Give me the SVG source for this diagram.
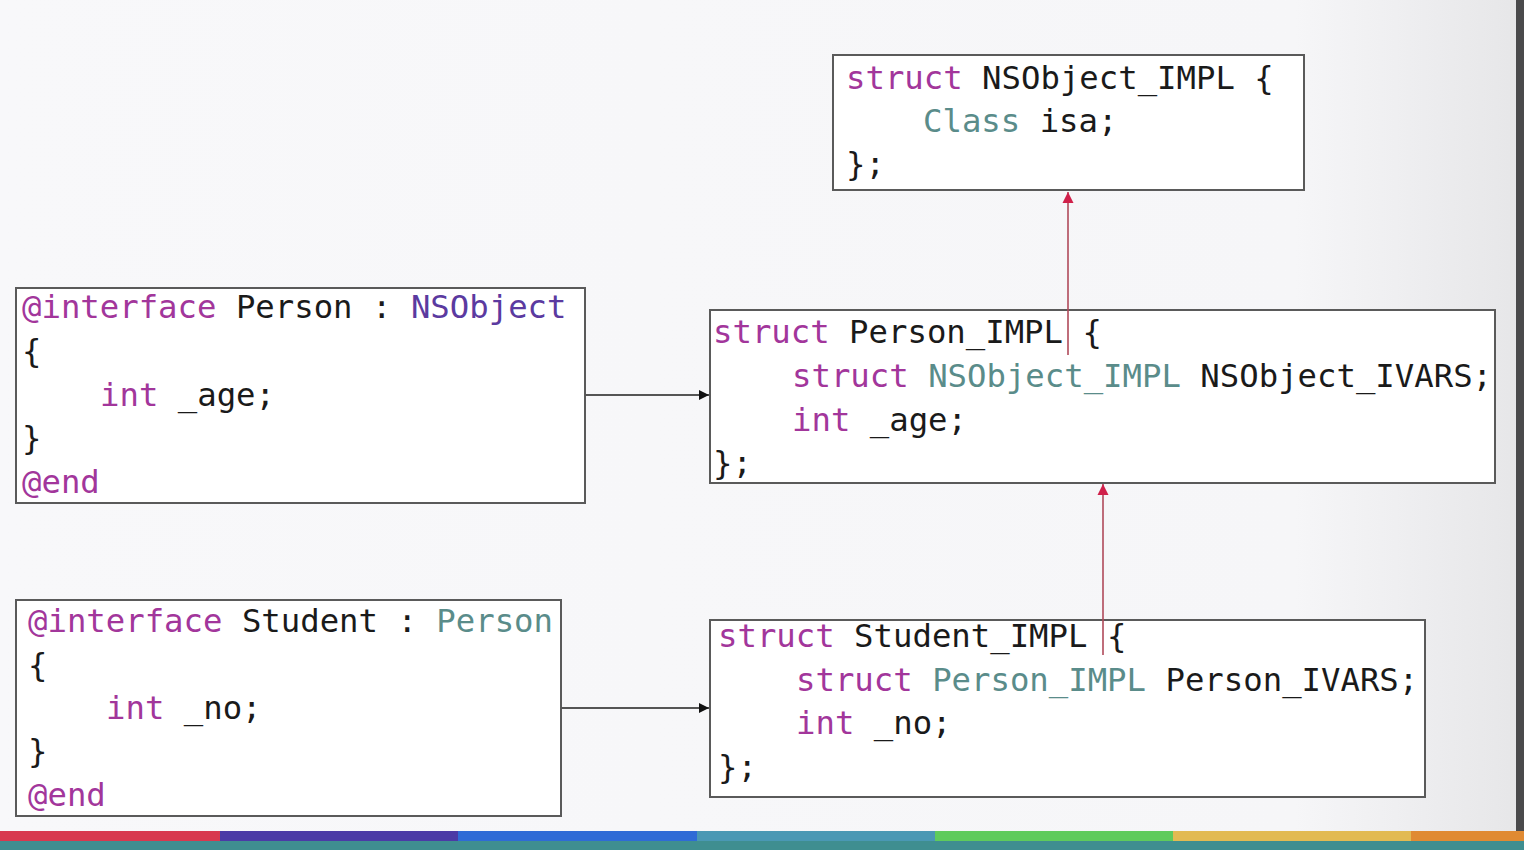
<svg xmlns="http://www.w3.org/2000/svg" width="1524" height="850" viewBox="0 0 1524 850">
<defs>
<linearGradient id="bg" x1="0" y1="0" x2="1" y2="0">
<stop offset="0" stop-color="#f8f8fa"/>
<stop offset="0.85" stop-color="#f6f6f8"/>
<stop offset="1" stop-color="#e6e6e8"/>
</linearGradient>
<marker id="ab" viewBox="0 0 10 10" refX="10" refY="5" markerWidth="5" markerHeight="5" orient="auto" markerUnits="strokeWidth">
<path d="M0,0 L10,5 L0,10 z" fill="#111"/>
</marker>
<marker id="ar" viewBox="0 0 10 10" refX="10" refY="5" markerWidth="7" markerHeight="7" orient="auto" markerUnits="strokeWidth">
<path d="M0,0 L10,5 L0,10 z" fill="#d0204a"/>
</marker>
<style>
.box{fill:#ffffff;stroke:#5a5a5a;stroke-width:2}
.code{font-family:"DejaVu Sans Mono","Liberation Mono",monospace;font-size:32.3px;fill:#1a1a1a;white-space:pre}
.kw{fill:#a2369b}
.cls{fill:#5b3aa0}
.ty{fill:#5a8c8a}
.blk{stroke:#555;stroke-width:2;fill:none}
.red{stroke:#b04a5a;stroke-width:1.6;fill:none}
</style>
</defs>
<rect x="0" y="0" width="1524" height="850" fill="url(#bg)"/>
<rect x="1516" y="0" width="8" height="832" fill="#4a4a4c"/>
<g id="bottom-bar">
<rect x="0" y="831" width="220" height="10" fill="#d8394f"/>
<rect x="220" y="831" width="238" height="10" fill="#4b3aa6"/>
<rect x="458" y="831" width="239" height="10" fill="#2f6bd6"/>
<rect x="697" y="831" width="238" height="10" fill="#4a98b4"/>
<rect x="935" y="831" width="238" height="10" fill="#5fcb5c"/>
<rect x="1173" y="831" width="238" height="10" fill="#e2ba52"/>
<rect x="1411" y="831" width="113" height="10" fill="#e08a32"/>
<rect x="0" y="841" width="1524" height="9" fill="#3f8e90"/>
</g>

<g id="nsobject-impl">
<rect class="box" x="833" y="55" width="471" height="135"/>
<text class="code" x="846" y="89"><tspan class="kw">struct</tspan> NSObject_IMPL {</text>
<text class="code" x="923" y="132"><tspan class="ty">Class</tspan> isa;</text>
<text class="code" x="846" y="175">};</text>
</g>

<g id="person-interface">
<rect class="box" x="16" y="288" width="569" height="215"/>
<text class="code" x="22" y="318"><tspan class="kw">@interface</tspan> Person : <tspan class="cls">NSObject</tspan></text>
<text class="code" x="22" y="362">{</text>
<text class="code" x="100" y="406"><tspan class="kw">int</tspan> _age;</text>
<text class="code" x="22" y="449">}</text>
<text class="code kw" x="22" y="493">@end</text>
</g>

<g id="person-impl">
<rect class="box" x="710" y="310" width="785" height="173"/>
<text class="code" x="713" y="343"><tspan class="kw">struct</tspan> Person_IMPL {</text>
<text class="code" x="792" y="387"><tspan class="kw">struct</tspan> <tspan class="ty">NSObject_IMPL</tspan> NSObject_IVARS;</text>
<text class="code" x="792" y="431"><tspan class="kw">int</tspan> _age;</text>
<text class="code" x="713" y="474">};</text>
</g>

<g id="student-interface">
<rect class="box" x="16" y="600" width="545" height="216"/>
<text class="code" x="28" y="632"><tspan class="kw">@interface</tspan> Student : <tspan class="ty">Person</tspan></text>
<text class="code" x="28" y="676">{</text>
<text class="code" x="106" y="719"><tspan class="kw">int</tspan> _no;</text>
<text class="code" x="28" y="762">}</text>
<text class="code kw" x="28" y="806">@end</text>
</g>

<g id="student-impl">
<rect class="box" x="710" y="620" width="715" height="177"/>
<text class="code" x="718" y="647"><tspan class="kw">struct</tspan> Student_IMPL {</text>
<text class="code" x="796" y="691"><tspan class="kw">struct</tspan> <tspan class="ty">Person_IMPL</tspan> Person_IVARS;</text>
<text class="code" x="796" y="734"><tspan class="kw">int</tspan> _no;</text>
<text class="code" x="718" y="778">};</text>
</g>

<g id="connectors">
<line class="blk" x1="585" y1="395" x2="709" y2="395" marker-end="url(#ab)"/>
<line class="blk" x1="561" y1="708" x2="709" y2="708" marker-end="url(#ab)"/>
<line class="red" x1="1068" y1="355" x2="1068" y2="192" marker-end="url(#ar)"/>
<line class="red" x1="1103" y1="655" x2="1103" y2="484" marker-end="url(#ar)"/>
</g>
</svg>
